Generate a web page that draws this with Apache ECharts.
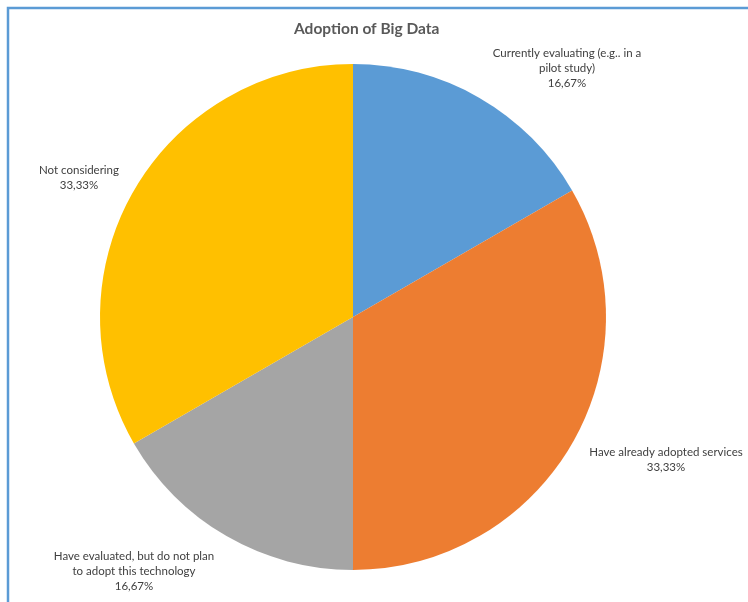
<!DOCTYPE html>
<html>
<head>
<meta charset="utf-8">
<script src="https://cdn.jsdelivr.net/npm/echarts@6/dist/echarts.min.js"></script>
<style>
  html, body { margin: 0; padding: 0; background: #ffffff; }
  #chart { width: 748px; height: 602px; }
</style>
</head>
<body>
<div id="chart"></div>
<script>
// Survey answers, clockwise from 12 o'clock
const categories = [
  'Currently evaluating (e.g.. in a\npilot study)',
  'Have already adopted services',
  'Have evaluated, but do not plan\nto adopt this technology',
  'Not considering'
];
const values = [1, 2, 1, 2];
const colors = ['#5B9BD5', '#ED7D31', '#A5A5A5', '#FFC000'];

// Where each slice's label block is centred (outside end of the slice)
const labelSpots = [[567, 68], [666, 460], [134, 571], [79, 178]];

const chart = echarts.init(document.getElementById('chart'));
chart.setOption({
  backgroundColor: '#ffffff',
  animation: false,
  title: {
    text: 'Adoption of Big Data',
    left: 289,
    top: 16,
    textStyle: { fontFamily: 'Lato', fontSize: 15.5, fontWeight: 'bold', color: '#595959' }
  },
  graphic: [{
    type: 'polyline',
    shape: { points: [[8, 620], [8, 8], [760, 8]] },
    style: { stroke: '#5B9BD5', lineWidth: 2.5, fill: null }
  }],
  series: [{
    type: 'pie',
    center: [353, 317],
    radius: 253,
    startAngle: 90,
    clockwise: true,
    data: categories.map((name, i) => ({ name, value: values[i], itemStyle: { color: colors[i] } })),
    label: {
      show: true,
      position: 'outside',
      fontFamily: 'Lato',
      fontSize: 11.5,
      lineHeight: 15,
      color: '#404040',
      align: 'center',
      width: 240,
      overflow: 'none',
      formatter: p => p.name + '\n' + p.percent.toFixed(2).replace('.', ',') + '%'
    },
    labelLine: { show: false },
    labelLayout: p => ({
      x: labelSpots[p.dataIndex][0],
      y: labelSpots[p.dataIndex][1],
      align: 'center',
      verticalAlign: 'middle'
    }),
    emphasis: { disabled: true }
  }]
});
</script>
</body>
</html>
